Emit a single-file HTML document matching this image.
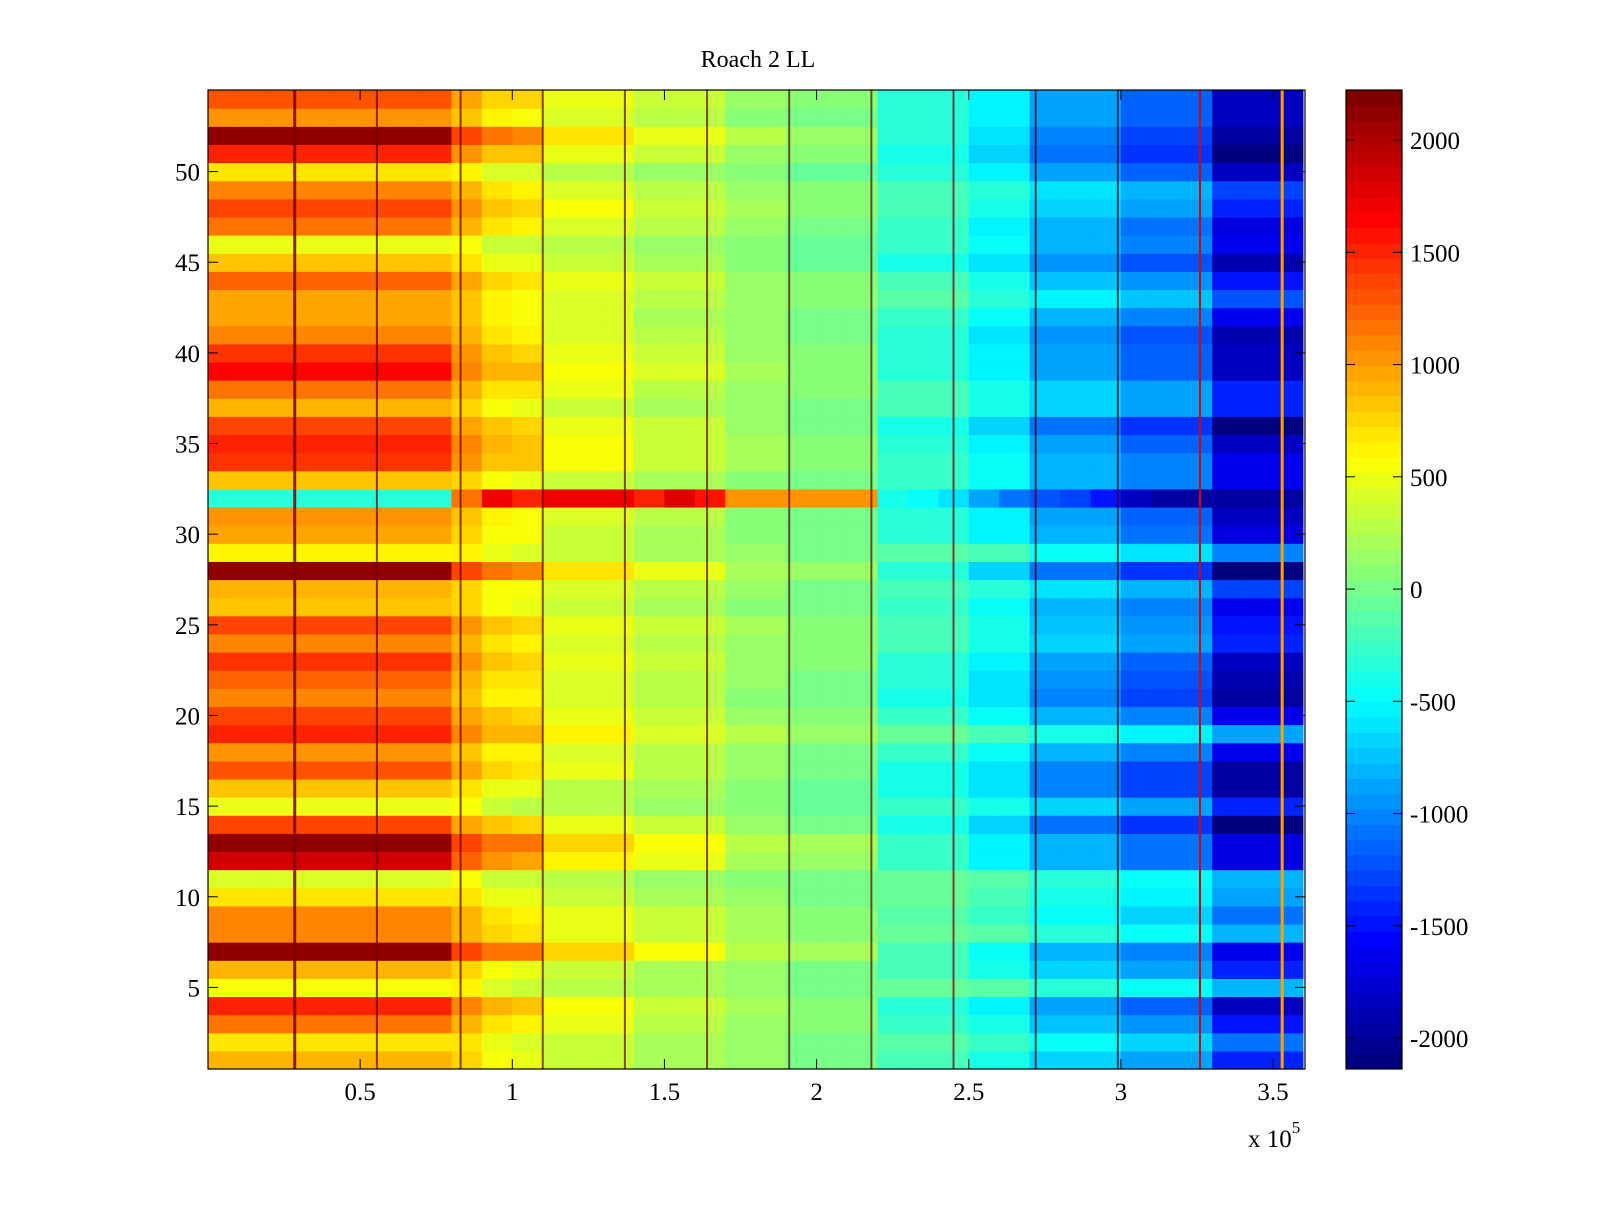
<!DOCTYPE html>
<html><head><meta charset="utf-8">
<style>
body{margin:0;background:#fff;}
svg text{font-family:"Liberation Serif",serif;fill:#000;}
</style></head>
<body>
<svg id="chart" width="1600" height="1200" viewBox="0 0 1600 1200" xmlns="http://www.w3.org/2000/svg">
<rect width="1600" height="1200" fill="#fff"/>
<text x="758" y="67" font-size="24" text-anchor="middle">Roach 2 LL</text>
<g id="cells"></g>
<g id="vlines"></g>
<g id="cbar"></g>
<g id="axes"></g>
</svg>
<script>
// Column base level by x-bin (each bin = 1e4)
const colBase = [1150,1150,1150,1150,1150,1150,1150,1150,900,700,650,450,450,450,300,300,300,150,150,50,50,50,-250,-250,-250,-450,-450,-750,-750,-750,-1000,-1000,-1000,-1550,-1550,-1550];
// How strongly left-side row pattern shows per bin
const leftAmp = [1,1,1,1,1,1,1,1,0.5,0.5,0.5,0.3,0.3,0.3,0.25,0.25,0.25,0.15,0.15,0.15,0.15,0.15,0.05,0.05,0.05,0,0,0,0,0,0,0,0,0,0,0];
// How strongly right-side row pattern shows per bin
const rightAmp = [0.1,0.1,0.1,0.1,0.1,0.1,0.1,0.1,0.1,0.1,0.1,0.1,0.1,0.1,0.1,0.1,0.1,0.1,0.1,0.1,0.1,0.1,0.3,0.3,0.3,0.4,0.4,0.55,0.55,0.55,0.7,0.7,0.7,1,1,1];
// Left-side value per row, rows 1..54 (bottom to top)
const rowLeft = [800,600,1100,1500,400,800,2100,1000,1000,600,300,1800,2100,1400,400,800,1300,1000,1400,1300,1100,1200,1400,1000,1300,800,800,2100,500,900,1000,0,800,1400,1500,1400,800,1100,1600,1400,1100,900,900,1200,800,450,1100,1300,1000,650,1500,2100,1000,1300];
// Right-side value per row, rows 1..54
const rowRight = [-1300,-1000,-1400,-1700,-700,-1300,-1500,-700,-1000,-800,-700,-1600,-1600,-2000,-1300,-1900,-1900,-1500,-800,-1500,-1900,-1800,-1700,-1300,-1400,-1500,-1200,-2000,-900,-1600,-1700,-2000,-1500,-1500,-1700,-2000,-1300,-1300,-1700,-1700,-1800,-1500,-1100,-1400,-1800,-1500,-1600,-1300,-1200,-1700,-2000,-1900,-1700,-1700];
// Row 32 has its own profile per bin
const row32 = [-300,-300,-300,-300,-300,-300,-300,-300,1200,1700,1500,1700,1700,1700,1500,1800,1600,1000,1000,1000,1000,1000,-400,-500,-600,-900,-1100,-1200,-1300,-1500,-1800,-2000,-2000,-2000,-2000,-2000];
// Vertical streak positions (x units)
const streakX = [28500,55500,83000,110000,137000,164000,191000,218000,245000,272000,299000,326000,353000];
const xTicks = [0.5,1,1.5,2,2.5,3,3.5];
const yTicks = [5,10,15,20,25,30,35,40,45,50];
const cTicks = [2000,1500,1000,500,0,-500,-1000,-1500,-2000];
const meanL = 1100, meanR = -1450;

const L=208,R=1305,T=90,B=1069;
const xMax=360500, yMin=0.5, yMax=54.5, cMin=-2138, cMax=2223;
const X=v=>L+(v/xMax)*(R-L);
const Y=v=>B-(v-yMin)/(yMax-yMin)*(B-T);
const CY=v=>B-(v-cMin)/(cMax-cMin)*(B-T);
function jet(t){t=Math.max(0,Math.min(1,t));t=Math.floor(t*63.999)/63;
 const f=x=>Math.round(255*Math.max(0,Math.min(1,1.5-Math.abs(4*t-x))));
 return `rgb(${f(3)},${f(2)},${f(1)})`;}
const C=v=>jet((v-cMin)/(cMax-cMin));
const NS="http://www.w3.org/2000/svg";
function mk(tag,attrs,parent){const e=document.createElementNS(NS,tag);for(const k in attrs)e.setAttribute(k,attrs[k]);parent.appendChild(e);return e;}

const cells=document.getElementById('cells');
for(let r=0;r<rowLeft.length;r++){
 for(let b=0;b<colBase.length;b++){
  const v = (r+1===32)? row32[b] : colBase[b] + leftAmp[b]*(rowLeft[r]-meanL) + rightAmp[b]*(rowRight[r]-meanR);
  const x0=X(b*10000), x1=Math.min(R,X((b+1)*10000));
  const e=mk('rect',{x:x0,y:Y(r+1.5),width:x1-x0+(b<colBase.length-1?0.6:0),height:Y(r+0.5)-Y(r+1.5)+0.6,fill:C(v)},cells);
  
  
 }
}
const vl=document.getElementById('vlines');
streakX.forEach((s,i)=>{
 let col='rgba(90,0,0,0.7)', w=2;
 if(s>320000 && s<330000){col='#e00000';}
 if(s>350000){col='#ffa000';w=3;}
 if(s<30000){w=3;col='rgba(120,0,0,0.85)';}
 const e=mk('rect',{x:X(s)-w/2,y:T,width:w,height:B-T,fill:col},vl);
 
 });

const cb=document.getElementById('cbar');
const CL=1346,CR=1402;
for(let i=0;i<64;i++){const v0=cMin+(cMax-cMin)*i/64,v1=cMin+(cMax-cMin)*(i+1)/64;
 const e=mk('rect',{x:CL,y:CY(v1),width:CR-CL,height:CY(v0)-CY(v1)+0.5,fill:jet((i+0.5)/64)},cb);
 
 }
mk('rect',{x:CL,y:T,width:CR-CL,height:B-T,fill:'none',stroke:'#000','stroke-width':1.2},cb);
cTicks.forEach(v=>{const y=CY(v);
 mk('line',{x1:CL,x2:CL+9,y1:y,y2:y,stroke:'#000'},cb);mk('line',{x1:CR-9,x2:CR,y1:y,y2:y,stroke:'#000'},cb);
 const t=mk('text',{x:1410,y:y+9,'font-size':25},cb);t.textContent=v;
 
 });

const ax=document.getElementById('axes');
mk('rect',{x:L,y:T,width:R-L,height:B-T,fill:'none',stroke:'#000','stroke-width':1.2},ax);
xTicks.forEach(v=>{const x=X(v*1e5);
 mk('line',{x1:x,x2:x,y1:B,y2:B-10,stroke:'#000'},ax);mk('line',{x1:x,x2:x,y1:T,y2:T+10,stroke:'#000'},ax);
 const t=mk('text',{x:x,y:1100,'font-size':25,'text-anchor':'middle'},ax);t.textContent=v;
 
 });
yTicks.forEach(v=>{const y=Y(v);
 mk('line',{x1:L,x2:L+10,y1:y,y2:y,stroke:'#000'},ax);mk('line',{x1:R,x2:R-10,y1:y,y2:y,stroke:'#000'},ax);
 const t=mk('text',{x:200,y:y+9,'font-size':25,'text-anchor':'end'},ax);t.textContent=v;
 
 });
const ex=mk('text',{x:1248,y:1147,'font-size':25},ax);


ex.innerHTML='x 10<tspan dy="-14" font-size="17">5</tspan>';
</script>
</body></html>
